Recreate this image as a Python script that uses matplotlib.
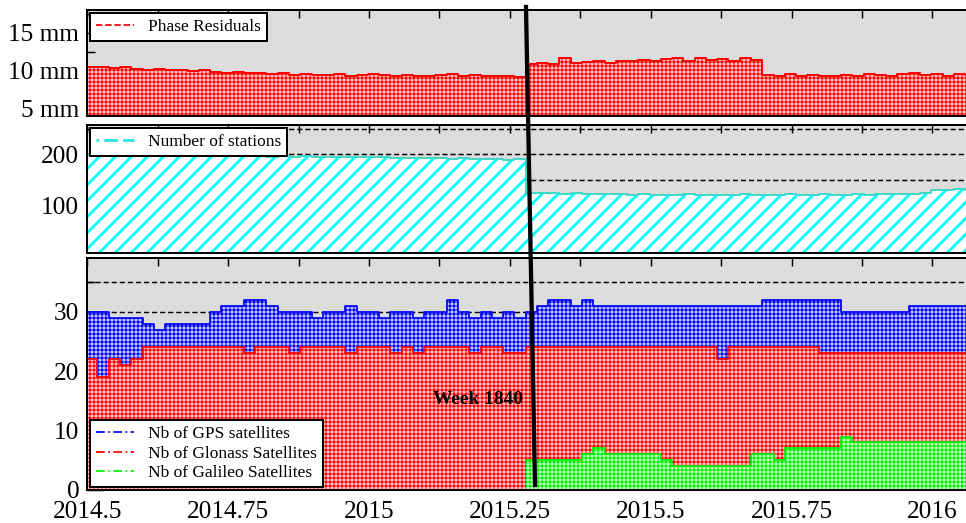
import numpy as np
import matplotlib.pyplot as plt
from matplotlib.lines import Line2D
from matplotlib.ticker import MultipleLocator, FixedLocator

plt.rcParams['font.family'] = ['Liberation Serif', 'DejaVu Serif']

# sample epochs (years), roughly weekly
years = 2014.498 + 0.02 * np.arange(80)

phase_res = [10.4, 10.5, 10.3, 10.4, 10.2, 10.1, 10.2, 10.0, 10.1, 9.9,
             10.0, 9.8, 9.7, 9.8, 9.6, 9.6, 9.5, 9.6, 9.4, 9.5,
             9.4, 9.4, 9.5, 9.3, 9.4, 9.5, 9.4, 9.3, 9.4, 9.3,
             9.3, 9.4, 9.5, 9.3, 9.4, 9.2, 9.3, 9.2, 9.1,
             10.8, 11.0, 10.9, 11.7, 11.0, 11.1, 11.2, 11.0, 11.3, 11.2, 11.4,
             11.3, 11.5, 11.7, 11.3, 11.6, 11.4, 11.5, 11.3, 11.6, 11.4,
             9.4, 9.3, 9.5, 9.3, 9.4, 9.2, 9.3, 9.4, 9.3, 9.5,
             9.4, 9.3, 9.5, 9.6, 9.4, 9.5, 9.3, 9.5, 9.4, 9.5]

stations = [198, 199, 197, 196, 198, 198, 197, 198, 197, 196,
            197, 197, 196, 197, 196, 196, 195, 196, 195, 196,
            195, 195, 194, 195, 194, 194, 194, 193, 193, 192,
            193, 192, 191, 192, 191, 190, 190, 189, 190,
            124, 123, 124, 122, 123, 122, 121, 122, 121, 120, 121,
            120, 119, 120, 121, 120, 119, 120, 120, 121, 120,
            119, 120, 121, 120, 120, 121, 120, 119, 121, 120,
            122, 121, 121, 122, 123, 129, 130, 131, 129, 130]

gps = [30, 30, 29, 29, 29, 28, 27, 28, 28, 28,
       28, 30, 31, 31, 32, 32, 31, 30, 30, 30,
       29, 30, 30, 31, 30, 30, 29, 30, 30, 29,
       30, 30, 32, 30, 29, 30, 29, 30, 29,
       30, 31, 32, 32, 31, 32, 31, 31, 31, 31, 31,
       31, 31, 31, 31, 31, 31, 31, 31, 31, 31,
       32, 32, 32, 32, 32, 32, 32, 30, 30, 30,
       30, 30, 30, 31, 31, 31, 31, 31, 31, 31]

glonass = [22, 19, 22, 21, 22, 24, 24, 24, 24, 24,
           24, 24, 24, 24, 23, 24, 24, 24, 23, 24,
           24, 24, 24, 23, 24, 24, 24, 23, 24, 23,
           24, 24, 24, 24, 23, 24, 24, 23, 23,
           24, 24, 24, 24, 24, 24, 24, 24, 24, 24, 24,
           24, 24, 24, 24, 24, 24, 22, 24, 24, 24,
           24, 24, 24, 24, 24, 23, 23, 23, 23, 23,
           23, 23, 23, 23, 23, 23, 23, 23, 23, 23]

galileo = [0] * 39 + [5, 5, 5, 5, 5, 6, 7, 6, 6, 6, 6,
                      6, 5, 4, 4, 4, 4, 4, 4, 4, 6,
                      6, 5, 7, 7, 7, 7, 7, 9, 8, 8,
                      8, 8, 8, 8, 8, 8, 8, 8, 8, 8]

xticks = [2014.5, 2014.75, 2015, 2015.25, 2015.5, 2015.75, 2016]
xtick_labels = ['2014.5', '2014.75', '2015', '2015.25', '2015.5', '2015.75', '2016']

GRAY = '#dcdcdc'
W, H = 966, 523


def make_axes(fig, top_px, bottom_px):
    left = 87.3
    return fig.add_axes([left / W, 1 - bottom_px / H, 1 - left / W, (bottom_px - top_px) / H])


def hatched_fill(ax, y, face, hatch_color, hatch, hw, z):
    coll = ax.fill_between(years, 0, y, step='post', facecolor=face,
                           edgecolor=hatch_color, linewidth=0, hatch=hatch, zorder=z)
    if hasattr(coll, 'set_hatch_linewidth'):
        coll.set_hatch_linewidth(hw)
    return coll


def style_axes(ax, ymaj, yminor, ylim):
    ax.set_facecolor(GRAY)
    ax.set_xlim(2014.5, 2014.5 + (W - 87.3) / 563.4)
    ax.set_ylim(*ylim)
    ax.xaxis.set_major_locator(FixedLocator(xticks))
    ax.xaxis.set_minor_locator(MultipleLocator(0.125))
    ax.yaxis.set_major_locator(FixedLocator(ymaj))
    ax.yaxis.set_minor_locator(FixedLocator(yminor))
    ax.tick_params(which='both', direction='in', top=True, right=False,
                   width=1.1, labelsize=19, pad=6)
    ax.tick_params(axis='x', which='both', length=6)
    ax.tick_params(axis='y', which='major', length=12)
    ax.tick_params(axis='y', which='minor', length=6)
    ax.spines['right'].set_visible(False)
    for s in ('left', 'top', 'bottom'):
        ax.spines[s].set_linewidth(1.5)
        ax.spines[s].set_zorder(6)


def add_legend(ax, handles, labels, loc):
    leg = ax.legend(handles, labels, loc=loc, fontsize=13, fancybox=False,
                    edgecolor='black', framealpha=1, borderaxespad=0.15,
                    borderpad=0.35, handlelength=2.2, handletextpad=0.8,
                    labelspacing=0.2)
    leg.get_frame().set_linewidth(1.5)
    leg.set_zorder(10)


plt.rcParams['hatch.linewidth'] = 0.75
fig = plt.figure(figsize=(W / 96, H / 96), dpi=96)

# top: phase residuals
ax1 = make_axes(fig, 10, 115.7)
style_axes(ax1, [5, 10, 15], [7.5, 12.5, 17.5], (4, 18))
hatched_fill(ax1, phase_res, '#ffc4c4', 'red', '++++', 0.75, 2)
ax1.plot(years, phase_res, drawstyle='steps-post', color='red', lw=1.5, zorder=3)
ax1.set_yticklabels(['5 mm', '10 mm', '15 mm'])
ax1.tick_params(axis='x', labelbottom=False)
add_legend(ax1, [Line2D([], [], color='red', ls='--', lw=1.3)], ['Phase Residuals'], 'upper left')

# middle: number of stations
ax2 = make_axes(fig, 125, 253.3)
style_axes(ax2, [100, 200], [50, 150, 250], (5, 258))
for v in (250, 200, 150):
    ax2.axhline(v, color='black', ls=(0, (3.5, 2)), lw=1.1, zorder=1)
hatched_fill(ax2, stations, 'white', '#00ffff', '//', 2.1, 2)
ax2.plot(years, stations, drawstyle='steps-post', color='#40d8c8', lw=1.5, zorder=3)
ax2.tick_params(axis='x', labelbottom=False)
add_legend(ax2, [Line2D([], [], color='#20e0e0', ls=(0, (1, 2, 5, 2, 5, 2)), lw=2)],
           ['Number of stations'], 'upper left')

# bottom: satellites
ax3 = make_axes(fig, 258.3, 490)
style_axes(ax3, [0, 10, 20, 30], [5, 15, 25, 35], (0, 39))
for v in (35, 30):
    ax3.axhline(v, color='black', ls=(0, (3.5, 2)), lw=1.1, zorder=1)
hatched_fill(ax3, gps, '#c4c4ff', 'blue', '++++', 0.75, 2)
ax3.plot(years, gps, drawstyle='steps-post', color='blue', lw=1.3, zorder=2.5)
hatched_fill(ax3, glonass, '#ffc4c4', 'red', '++++', 0.75, 3)
ax3.plot(years, glonass, drawstyle='steps-post', color='red', lw=1.3, zorder=3.5)
hatched_fill(ax3, galileo, '#c4ffc4', '#00ee00', '++++', 0.75, 4)
gal_line = np.where(np.array(galileo) > 0, galileo, np.nan)
ax3.plot(years, gal_line, drawstyle='steps-post', color='#00ee00', lw=1.3, zorder=4.5)
ax3.set_xticklabels(xtick_labels)
ax3.tick_params(axis='x', pad=8)
dd = (0, (5, 2, 1, 2))
add_legend(ax3,
           [Line2D([], [], color='blue', ls=dd, lw=1.3),
            Line2D([], [], color='red', ls=dd, lw=1.3),
            Line2D([], [], color='#00ee00', ls=dd, lw=1.3)],
           ['Nb of GPS satellites', 'Nb of Glonass Satellites', 'Nb of Galileo Satellites'],
           'lower left')

# week 1840 marker
fig.add_artist(Line2D([526 / W, 535 / W], [1 - 7 / H, 1 - 485 / H], color='black', lw=3.2, zorder=20))
fig.text(523 / W, 1 - 400 / H, 'Week 1840', ha='right', va='center',
         fontsize=14.5, fontweight='bold', zorder=21)

fig.savefig('out.png', dpi=96)
